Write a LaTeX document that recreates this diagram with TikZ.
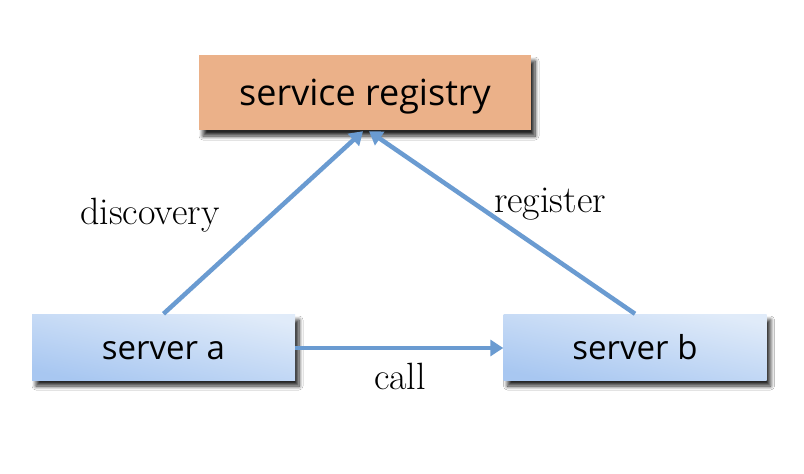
\documentclass[tikz,border=0pt]{standalone}
\usepackage{fontspec}
\setsansfont{Open Sans}
\usetikzlibrary{arrows.meta,shadows.blur}
\definecolor{regfill}{HTML}{EBB189}
\definecolor{arrowblue}{HTML}{6A9BD1}
\definecolor{boxdark}{HTML}{A8C7F1}
\definecolor{boxlight}{HTML}{E0EBF9}
\newcommand{\lowtext}[1]{\raisebox{-12.5pt}[0pt][0pt]{#1}}
\begin{document}
\begin{tikzpicture}[x=1pt,y=-1pt,
  boxshadow/.style={blur shadow={shadow xshift=4pt,shadow yshift=-6pt,shadow blur steps=8,shadow blur radius=4pt,shadow opacity=85}},
  regbox/.style={boxshadow,fill=regfill,minimum width=332pt,minimum height=75pt,inner sep=0pt,font=\sffamily\fontsize{36}{40}\selectfont},
  srvbox/.style={boxshadow,shading=axis,top color=boxlight,bottom color=boxdark,shading angle=-12,minimum width=263pt,minimum height=66pt,inner sep=0pt,font=\sffamily\fontsize{33}{38}\selectfont},
  conn/.style={draw=arrowblue,line width=4.5pt,-{Triangle[length=13pt,width=16pt]}},
  lbl/.style={font=\fontsize{38}{40}\selectfont,inner sep=0pt}]
\useasboundingbox[fill=white] (0,0) rectangle (804,474);
\node[regbox] (reg) at (365,92.5) {\lowtext{service registry}};
\node[srvbox] (sa) at (163.5,347) {\lowtext{server a}};
\node[srvbox] (sb) at (635,347) {\lowtext{server b}};
\coordinate (tipl) at ([xshift=-2pt,yshift=-1pt]reg.south);
\coordinate (tipr) at ([xshift=4pt,yshift=-1pt]reg.south);
\draw[conn] (sa.north) -- (tipl);
\draw[conn] (sb.north) -- (tipr);
\draw[conn] ([yshift=-1pt]sa.east) -- ([yshift=-1pt]sb.west);
\node[lbl] (ld) at (150,215) {discovery};
\node[lbl] (lr) at (550,204) {register};
\node[lbl] (lc) at (400,376) {call};
\end{tikzpicture}
\end{document}
